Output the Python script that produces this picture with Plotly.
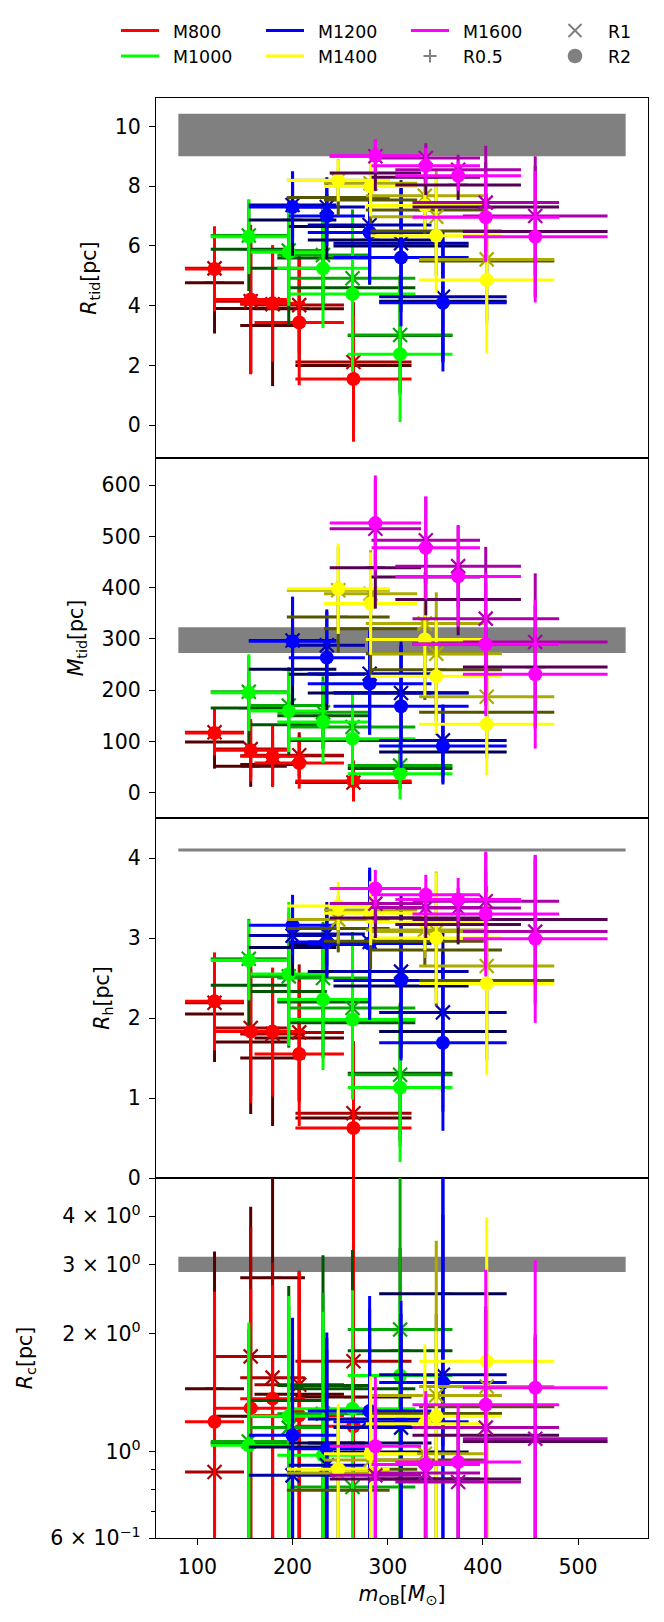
import math
import plotly.graph_objects as go
from plotly.subplots import make_subplots

# ---------------- data ----------------
models = ["M800", "M1000", "M1200", "M1400", "M1600"]
radii = ["R0.5", "R1", "R2"]

# m_OB (x) and its error, per model (5 points each)
m_ob = [[118, 156, 179, 207, 264],
        [154, 196, 232, 263, 313],
        [200, 236, 281, 314, 358],
        [248, 282, 339, 351, 404],
        [287, 340, 374, 403, 455]]
m_ob_err = [[31, 38, 34, 47, 61],
            [40, 40, 48, 66, 55],
            [46, 40, 65, 71, 67],
            [54, 49, 62, 69, 71],
            [48, 57, 66, 77, 76]]

# R_tid [pc]
rtid_R05 = [[4.77, 3.91, 3.34, 3.9, 2.0], [5.89, 5.25, 5.6, 4.6, 3.0], [6.87, 6.65, 6.2, 6.0, 4.15],
            [7.62, 7.54, 7.2, 6.5, 5.5], [8.44, 8.3, 8.04, 7.3, 6.48]]
rtid_R05_err = [[1.7, 2.2, 2.03, 1.8, 1.9], [1.4, 1.9, 1.7, 2.2, 1.9], [1.2, 1.1, 1.5, 2.2, 2.0],
                [0.6, 0.8, 0.8, 1.5, 2.0], [0.6, 0.6, 0.5, 1.5, 2.2]]
rtid_R1 = [[5.25, 4.15, 4.05, 4.02, 2.12], [6.35, 5.85, 5.7, 4.92, 3.02], [7.37, 7.3, 6.7, 6.09, 4.3],
           [8.2, 8.1, 7.68, 6.98, 5.55], [9.0, 8.94, 8.55, 7.45, 7.0]]
rtid_R1_err = [[1.4, 2.4, 1.9, 1.62, 2.0], [1.2, 1.7, 1.6, 2.3, 2.0], [1.1, 1.0, 1.5, 2.0, 2.2],
               [0.7, 0.9, 0.8, 1.6, 2.2], [0.55, 0.5, 0.5, 1.9, 2.0]]
rtid_R2 = [[5.23, 4.21, 4.08, 3.44, 1.55], [6.31, 5.79, 5.25, 4.39, 2.38], [7.30, 7.0, 6.45, 5.61, 4.10],
           [8.19, 7.99, 7.35, 6.34, 4.86], [9.02, 8.68, 8.35, 6.96, 6.31]]
rtid_R2_err = [[1.42, 2.5, 1.95, 2.1, 2.1], [1.25, 1.8, 2.0, 2.6, 2.27], [1.2, 1.0, 1.7, 2.3, 2.3],
               [0.7, 1.0, 0.8, 1.9, 2.45], [0.56, 0.6, 0.5, 1.5, 2.2]]

# M_tid
mtid_R05 = [[98.9, 51.4, 55, 72, 20], [165, 132.7, 150, 102, 47], [240.7, 231, 194.5, 195, 79.4],
            [343, 320, 271, 240, 157], [439, 421, 377, 290, 245]]
mtid_R05_err = [[52, 40, 42, 40, 30], [70, 60, 65, 60, 40], [70, 70, 80, 90, 60],
                [70, 90, 90, 100, 90], [80, 75, 70, 120, 120]]
mtid_R1 = [[118, 85, 72, 72.9, 20], [197, 170, 157, 128, 53], [297, 287.6, 232, 194.5, 102],
           [395, 388, 330, 271, 187], [515, 492.5, 442, 339.6, 294]]
mtid_R1_err = [[45, 55, 55, 45, 35], [70, 75, 70, 70, 45], [85, 70, 90, 100, 70],
               [85, 85, 100, 120, 100], [95, 85, 80, 140, 134]]
mtid_R2 = [[116.5, 82.6, 70.9, 57.9, 22.8], [195.2, 159.4, 137.9, 105.4, 37.1], [295.4, 263.5, 212.7, 168.5, 91],
           [398, 369, 299, 227, 133.4], [526, 478, 422, 289.5, 231]]
mtid_R2_err = [[44, 61, 60, 50, 40], [75, 80, 80, 90, 50], [87, 90, 100, 120, 75],
               [88, 100, 110, 112, 100], [93, 100, 98, 140, 145]]

# R_h [pc]
rh_R05 = [[2.05, 1.70, 1.5, 1.75, 0.75], [2.41, 2.33, 2.2, 1.94, 1.31], [2.88, 2.92, 2.58, 2.4, 1.83],
          [3.12, 2.96, 2.96, 2.85, 2.47], [3.25, 3.25, 3.17, 3.23, 3.23]]
rh_R05_err = [[0.6, 0.9, 0.85, 0.8, 0.9], [0.5, 0.7, 0.7, 0.9, 0.85], [0.35, 0.4, 0.6, 0.9, 1.0],
              [0.3, 0.35, 0.3, 0.7, 1.0], [0.25, 0.25, 0.25, 0.6, 0.8]]
rh_R1 = [[2.19, 1.875, 1.8, 1.82, 0.81], [2.74, 2.52, 2.5, 2.125, 1.29], [3.03, 3.05, 2.95, 2.58, 2.07],
         [3.23, 3.35, 3.1, 3.08, 2.65], [3.43, 3.38, 3.375, 3.46, 3.08]]
rh_R1_err = [[0.6, 0.85, 0.8, 0.85, 0.9], [0.5, 0.8, 0.7, 0.95, 0.9], [0.35, 0.4, 0.9, 0.95, 1.0],
             [0.3, 0.35, 0.35, 0.75, 1.0], [0.25, 0.25, 0.25, 0.6, 0.9]]
rh_R2 = [[2.21, 1.83, 1.83, 1.55, 0.625], [2.72, 2.55, 2.23, 1.98, 1.13], [3.16, 2.95, 2.93, 2.47, 1.69],
         [3.40, 3.31, 3.2, 3.0, 2.43], [3.62, 3.54, 3.48, 3.3, 2.99]]
rh_R2_err = [[0.61, 0.89, 0.8, 0.9, 1.04], [0.5, 0.9, 0.88, 1.0, 0.93], [0.38, 0.45, 0.95, 1.0, 1.1],
             [0.3, 0.4, 0.35, 0.82, 1.14], [0.23, 0.25, 0.27, 0.78, 1.05]]

# R_c [pc]
rc_R05 = [[1.447, 1.23, 2.78, 1.399, 1.377], [1.05, 1.35, 1.475, 1.447, 1.81], [1.026, 1.05, 1.05, 0.996, 2.53],
          [0.795, 0.9, 0.95, 1.25, 1.3], [0.85, 0.85, 0.85, 1.1, 1.06]]
rc_R05_err = [[1.8, 3.0, 2.5, 1.5, 2.0], [1.0, 1.3, 1.7, 1.83, 1.5], [0.9, 0.9, 1.0, 1.0, 1.5],
              [0.4, 0.5, 0.6, 1.0, 1.2], [0.5, 0.5, 0.4, 1.2, 0.9]]
rc_R1 = [[0.885, 1.75, 1.544, 1.48, 1.70], [1.06, 1.15, 1.248, 0.81, 2.05], [0.868, 0.921, 1.21, 1.15, 1.57],
         [0.88, 0.95, 0.986, 1.39, 1.466], [0.868, 0.88, 0.835, 1.15, 1.077]]
rc_R1_err = [[1.2, 2.0, 1.5, 1.4, 1.58], [1.0, 1.2, 1.3, 1.3, 3.0], [0.9, 0.9, 1.1, 1.1, 3.5],
             [0.4, 0.5, 0.6, 2.07, 1.5], [0.5, 0.5, 0.4, 1.2, 0.92]]
rc_R2 = [[1.19, 1.29, 1.364, 1.236, 1.159], [1.036, 1.229, 0.977, 1.286, 1.564], [1.099, 1.016, 1.268, 1.19, 1.5],
         [0.9, 0.986, 1.177, 1.229, 1.70], [1.03, 0.926, 0.939, 1.316, 1.455]]
rc_R2_err = [[1.37, 1.31, 1.3, 1.66, 4.0], [1.1, 1.27, 1.3, 1.3, 0.87], [1.1, 1.0, 1.23, 1.24, 3.6],
             [0.42, 0.57, 0.7, 0.8, 2.27], [0.52, 0.5, 0.37, 1.6, 1.63]]

# observed ranges (grey bands)
band_x = [80, 550]
band_rtid = [9.0, 10.42]
band_mtid = [272.6, 323.0]
band_rh = [4.08, 4.12]
band_rc = [2.88, 3.15]

# legend layout (column-major, as in the reference)
legend_columns = [["M800", "M1000"], ["M1200", "M1400"], ["M1600", "R0.5"], ["R1", "R2"]]

# ---------------- styles ----------------
col_R2 = ["#ff0000", "#00ff00", "#0000ff", "#ffff00", "#ff00ff"]
col_R1 = ["#aa0000", "#00aa00", "#0000aa", "#aaaa00", "#aa00aa"]
col_R05 = ["#550000", "#005500", "#000055", "#555500", "#550055"]
radius_colors = {"R0.5": col_R05, "R1": col_R1, "R2": col_R2}
radius_symbol = {"R0.5": "cross-thin", "R1": "x-thin", "R2": "circle"}

FONT = "DejaVu Sans"
GREY = "#808080"
TICK_SIZE = 20.5
LEG_SIZE = 17.4

W, H = 664, 1622
ML, MR, MT, MB = 156, 16, 98, 84
PW, PH = W - ML - MR, H - MT - MB

panels = [
    ({"R0.5": (rtid_R05, rtid_R05_err), "R1": (rtid_R1, rtid_R1_err), "R2": (rtid_R2, rtid_R2_err)}, band_rtid),
    ({"R0.5": (mtid_R05, mtid_R05_err), "R1": (mtid_R1, mtid_R1_err), "R2": (mtid_R2, mtid_R2_err)}, band_mtid),
    ({"R0.5": (rh_R05, rh_R05_err), "R1": (rh_R1, rh_R1_err), "R2": (rh_R2, rh_R2_err)}, band_rh),
    ({"R0.5": (rc_R05, rc_R05_err), "R1": (rc_R1, rc_R1_err), "R2": (rc_R2, rc_R2_err)}, band_rc),
]

fig = make_subplots(rows=4, cols=1, shared_xaxes=True, vertical_spacing=0)


def marker_for(radius, color):
    sym = radius_symbol[radius]
    if sym == "circle":
        return dict(symbol="circle", size=14, color=color, line=dict(width=0))
    return dict(symbol=sym, size=14, color=color, line=dict(width=2.2, color=color))


for row, (data, band) in enumerate(panels, start=1):
    fig.add_trace(go.Scatter(
        x=[band_x[0], band_x[1], band_x[1], band_x[0], band_x[0]],
        y=[band[0], band[0], band[1], band[1], band[0]],
        mode="lines", fill="toself", fillcolor=GREY, line=dict(width=0, color=GREY),
        showlegend=False, hoverinfo="skip"), row=row, col=1)
    for mi, m in enumerate(models):
        for r in radii:
            ys, es = data[r]
            c = radius_colors[r][mi]
            fig.add_trace(go.Scatter(
                x=m_ob[mi], y=ys[mi], mode="markers",
                marker=marker_for(r, c),
                error_x=dict(type="data", array=m_ob_err[mi], color=c, thickness=3, width=0),
                error_y=dict(type="data", array=es[mi], color=c, thickness=3, width=0),
                showlegend=False, name=f"{m} {r}"), row=row, col=1)


# ---------------- legend (drawn in the top margin) ----------------
def px_x(px):
    return (px - ML) / PW


def px_y(py):
    return (MT + PH - py) / PH


row_centers = [30.5, 56.0]
col_step = 145
for k, column in enumerate(legend_columns):
    cx = 140 + col_step * k
    for j, name in enumerate(column):
        cy = row_centers[j]
        if name in models:
            c = col_R2[models.index(name)]
            fig.add_shape(type="line", xref="paper", yref="paper",
                          x0=px_x(cx - 19), x1=px_x(cx + 19), y0=px_y(cy), y1=px_y(cy),
                          line=dict(color=c, width=3))
        elif name == "R0.5":
            a = 6.5
            fig.add_shape(type="line", xref="paper", yref="paper",
                          x0=px_x(cx - a), x1=px_x(cx + a), y0=px_y(cy), y1=px_y(cy),
                          line=dict(color=GREY, width=2))
            fig.add_shape(type="line", xref="paper", yref="paper",
                          x0=px_x(cx), x1=px_x(cx), y0=px_y(cy - a), y1=px_y(cy + a),
                          line=dict(color=GREY, width=2))
        elif name == "R1":
            a = 6.5
            fig.add_shape(type="line", xref="paper", yref="paper",
                          x0=px_x(cx - a), x1=px_x(cx + a), y0=px_y(cy - a), y1=px_y(cy + a),
                          line=dict(color=GREY, width=2))
            fig.add_shape(type="line", xref="paper", yref="paper",
                          x0=px_x(cx - a), x1=px_x(cx + a), y0=px_y(cy + a), y1=px_y(cy - a),
                          line=dict(color=GREY, width=2))
        else:
            rr = 7.3
            fig.add_shape(type="circle", xref="paper", yref="paper",
                          x0=px_x(cx - rr), x1=px_x(cx + rr), y0=px_y(cy + rr), y1=px_y(cy - rr),
                          fillcolor=GREY, line=dict(color=GREY, width=0))
        fig.add_annotation(text=name, xref="paper", yref="paper",
                           x=px_x(172 + col_step * k), y=px_y(cy + 1),
                           xanchor="left", yanchor="middle", showarrow=False, borderpad=0,
                           font=dict(family=FONT, size=LEG_SIZE, color="black"))

axis_common = dict(showline=True, mirror=True, linecolor="black", linewidth=1.3, automargin=False,
                   showgrid=False, zeroline=False, tickcolor="black", tickwidth=1.2,
                   ticklen=6, ticklabelstandoff=4,
                   tickfont=dict(family=FONT, size=TICK_SIZE, color="black"))

for row in range(1, 5):
    xa = dict(axis_common, range=[56.5, 573.5])
    if row == 4:
        xa.update(ticks="outside", tickvals=[100, 200, 300, 400, 500], showticklabels=True,
                  title=dict(text="<i>m</i><sub>OB</sub>[<i>M</i><sub>⊙</sub>]",
                             font=dict(family=FONT, size=TICK_SIZE), standoff=8))
    else:
        xa.update(ticks="", showticklabels=False)
    fig.update_xaxes(xa, row=row, col=1)

title_font = dict(family=FONT, size=TICK_SIZE)
fig.update_yaxes(axis_common, ticks="outside", range=[-1.095, 10.95], tickvals=[0, 2, 4, 6, 8, 10],
                 title=dict(text="<i>R</i><sub>tid</sub>[pc]", font=title_font, standoff=12), row=1, col=1)
fig.update_yaxes(axis_common, ticks="outside", range=[-49.4, 653], tickvals=[0, 100, 200, 300, 400, 500, 600],
                 title=dict(text="<i>M</i><sub>tid</sub>[pc]", font=title_font, standoff=12), row=2, col=1)
fig.update_yaxes(axis_common, ticks="outside", range=[0, 4.5], tickvals=[0, 1, 2, 3, 4],
                 title=dict(text="<i>R</i><sub>h</sub>[pc]", font=title_font, standoff=12), row=3, col=1)
fig.update_yaxes(axis_common, type="log", ticks="outside",
                 range=[math.log10(0.6), 0.6997],
                 tickvals=[0.6, 1, 2, 3, 4],
                 ticktext=["6 × 10<sup>−1</sup>", "10<sup>0</sup>", "2 × 10<sup>0</sup>",
                           "3 × 10<sup>0</sup>", "4 × 10<sup>0</sup>"],
                 minor=dict(tickvals=[0.7, 0.8, 0.9], ticks="outside", ticklen=3.5, tickcolor="black", tickwidth=1),
                 title=dict(text="<i>R</i><sub>c</sub>[pc]", font=title_font, standoff=12), row=4, col=1)

fig.update_layout(
    width=W, height=H,
    margin=dict(l=ML, r=MR, t=MT, b=MB, autoexpand=False),
    plot_bgcolor="white", paper_bgcolor="white",
    font=dict(family=FONT, size=TICK_SIZE, color="black"),
    showlegend=False,
    hovermode=False,
)

fig.write_html("out.html", config={"displayModeBar": False},
               post_script="document.body.style.margin='0';")
